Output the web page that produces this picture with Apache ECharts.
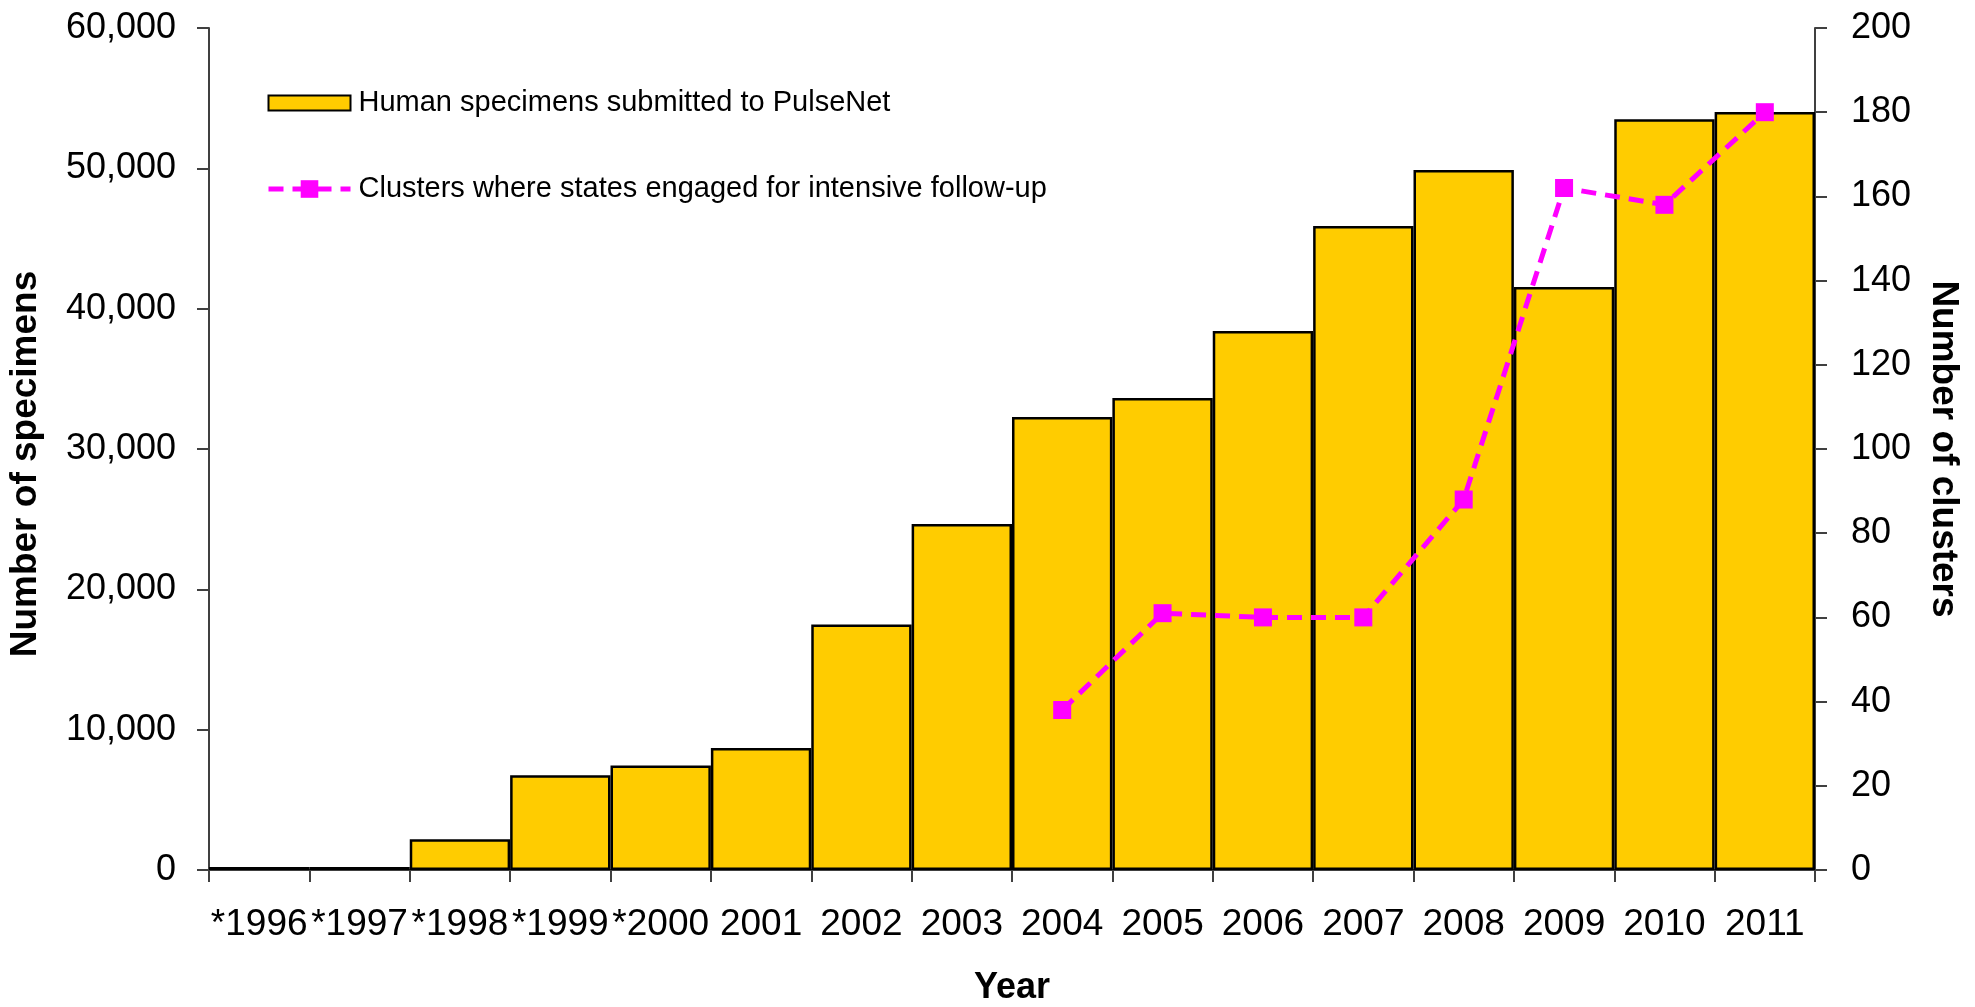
<!DOCTYPE html>
<html>
<head>
<meta charset="utf-8">
<script src="https://cdn.jsdelivr.net/npm/echarts@6/dist/echarts.min.js"></script>
<style>
html,body{margin:0;padding:0;background:#fff;}
#chart{width:1975px;height:1007px;}
</style>
</head>
<body>
<div id="chart"></div>
<script>
const categories = ['*1996','*1997','*1998','*1999','*2000','2001','2002','2003','2004','2005','2006','2007','2008','2009','2010','2011'];
const specimens = [220,220,2200,6750,7450,8700,17500,24650,32280,33630,38410,45890,49880,41550,53500,54020];
const clusters = [null,null,null,null,null,null,null,null,38,61,60,60,88,162,158,180];
const leftTicks = {min:0,max:60000,interval:10000};
const rightTicks = {min:0,max:200,interval:20};
const barName = 'Human specimens submitted to PulseNet';
const lineName = 'Clusters where states engaged for intensive follow-up';

const FONT = "'Liberation Sans', Arial, sans-serif";
const chart = echarts.init(document.getElementById('chart'));
const axisLineStyle = {color:'#404040', width:2};
chart.setOption({
  animation:false,
  backgroundColor:'#ffffff',
  grid:{left:209,right:160,top:28,bottom:137,containLabel:false,outerBoundsMode:'none'},
  legend:{
    orient:'vertical', left:261, top:82,
    itemWidth:82, itemHeight:22, itemGap:54,
    symbolKeepAspect:true,
    textStyle:{fontFamily:FONT,fontSize:29,color:'#000',lineHeight:32,padding:[0,0,0,3]},
    data:[
      {name:barName, icon:'path://M0,0H82V15H0Z'},
      {name:lineName, lineStyle:{width:5,type:[15,9],color:'#FF00FF'}}
    ]
  },
  xAxis:{
    type:'category', data:categories, boundaryGap:true,
    axisLine:{lineStyle:axisLineStyle},
    axisTick:{show:true,inside:false,length:12,lineStyle:axisLineStyle,alignWithLabel:false},
    axisLabel:{fontFamily:FONT,fontSize:37,color:'#000',margin:36,interval:0},
    name:'Year', nameLocation:'middle', nameGap:100,
    nameTextStyle:{fontFamily:FONT,fontSize:36,fontWeight:'bold',color:'#000'}
  },
  yAxis:[{
    type:'value', position:'left', min:leftTicks.min, max:leftTicks.max, interval:leftTicks.interval,
    axisLine:{show:true,lineStyle:axisLineStyle},
    axisTick:{show:true,length:12,lineStyle:axisLineStyle},
    splitLine:{show:false},
    axisLabel:{fontFamily:FONT,fontSize:36,color:'#000',margin:33,formatter:v=>v.toLocaleString('en-US')},
    name:'Number of specimens', nameLocation:'middle', nameRotate:90, nameGap:165,
    nameTextStyle:{fontFamily:FONT,fontSize:37,fontWeight:'bold',color:'#000',padding:[0,30,0,0]}
  },{
    type:'value', position:'right', min:rightTicks.min, max:rightTicks.max, interval:rightTicks.interval,
    axisLine:{show:true,lineStyle:axisLineStyle},
    axisTick:{show:true,length:12,lineStyle:axisLineStyle},
    splitLine:{show:false},
    axisLabel:{fontFamily:FONT,fontSize:36,color:'#000',margin:36},
    name:'Number of clusters', nameLocation:'middle', nameRotate:-90, nameGap:110,
    nameTextStyle:{fontFamily:FONT,fontSize:37,fontWeight:'bold',color:'#000'}
  }],
  series:[{
    name:barName, type:'bar', data:specimens, yAxisIndex:0,
    barCategoryGap:'0%', barGap:'0%',
    itemStyle:{color:'#FFCC00',borderColor:'#000',borderWidth:2.5}
  },{
    name:lineName, type:'line', data:clusters, yAxisIndex:1, z:5,
    connectNulls:false,
    symbol:'rect', symbolSize:18,
    itemStyle:{color:'#FF00FF'},
    lineStyle:{color:'#FF00FF',width:5,type:[15,9]}
  }]
});
</script>
</body>
</html>
